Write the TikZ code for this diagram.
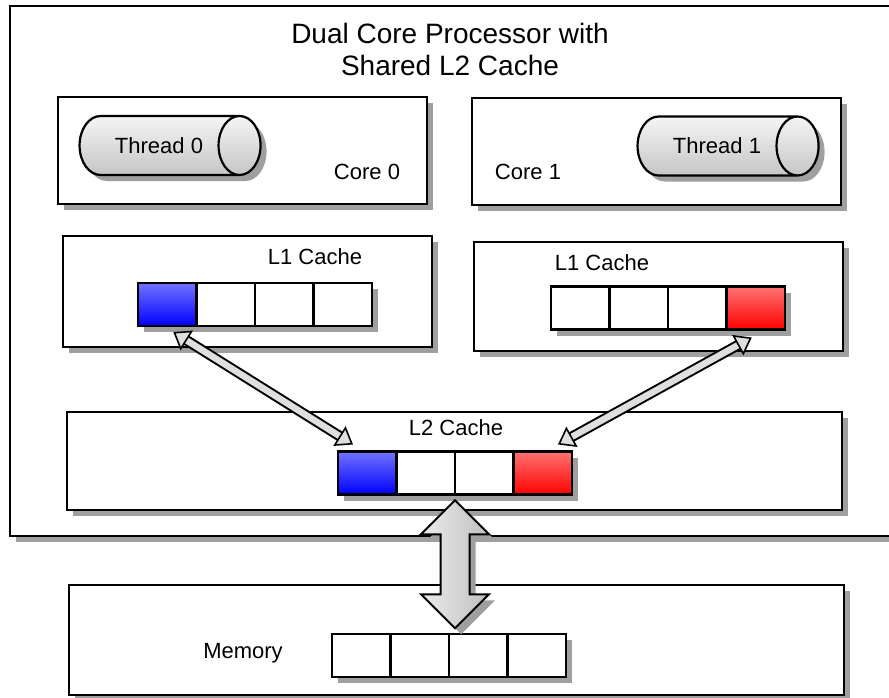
\documentclass[tikz,border=0pt]{standalone}
\usepackage{fontspec}
\setmainfont{Liberation Sans}
\usepackage{tikz}
\usetikzlibrary{positioning,shapes.geometric,shapes.arrows,shadows,arrows.meta,calc}

\tikzset{
  shade box/.style={drop shadow={shadow xshift=6pt, shadow yshift=-6pt, fill=gray!75, opacity=1}},
  frame/.style={draw, line width=2.4pt, fill=white, outer sep=0pt, inner sep=0pt, shade box},
  cell/.style={frame, minimum width=58.5pt, minimum height=43pt},
  bluecell/.style={cell, top color=blue!55!white, bottom color=blue},
  redcell/.style={cell, top color=red!55!white, bottom color=red},
  thread/.style={cylinder, draw, line width=2.2pt, shape aspect=2.6, minimum height=181pt, minimum width=59pt, inner sep=0pt,
    top color=gray!8, bottom color=gray!45, shade box, font=\fontsize{22}{26}\selectfont},
  lbl/.style={font=\fontsize{22}{26}\selectfont},
  link/.style={double=gray!25, double distance=6.5pt, line width=2pt,
    {Triangle[length=16pt,width=23pt,fill=gray!25,line width=1.6pt]}-{Triangle[length=16pt,width=23pt,fill=gray!25,line width=1.6pt]}},
  bigarrow/.style={double arrow, draw, line width=2pt, rotate=90, minimum height=128pt, inner xsep=0pt, inner ysep=13.5pt,
    double arrow head extend=19.5pt, left color=gray!15, right color=gray!50, shade box}
}

\begin{document}
\begin{tikzpicture}[x=1pt,y=-1pt]
\useasboundingbox (0,0) rectangle (889,698);
\fill[white] (0,0) rectangle (889,698);
\clip (0,0) rectangle (889,698);

% processor and its parts
\node[frame, minimum width=895pt, minimum height=530pt] (cpu) at (457.5,271) {};
\node[font=\fontsize{28}{32}\selectfont, align=center] (title) at (450,49) {Dual Core Processor with\\Shared L2 Cache};

\node[frame, minimum width=369pt, minimum height=107pt] (core0) at (242.5,150.5) {};
\node[frame, minimum width=369pt, minimum height=107pt] (core1) at (656.5,151.5) {};

\node[thread] (t0) at (159,145.5) {Thread 0};
\node[thread] (t1) at (717,146) {Thread 1};

\node[lbl] (c0) at (367,172) {Core 0};
\node[lbl] (c1) at (528,172) {Core 1};

% L1 caches
\node[frame, minimum width=369pt, minimum height=111pt] (l1a) at (247.5,291.5) {};
\node[frame, minimum width=369pt, minimum height=109pt] (l1b) at (658.5,296.5) {};
\node[lbl] (l1atxt) at (315,257) {L1 Cache};
\node[lbl] (l1btxt) at (602,263) {L1 Cache};

\node[bluecell, anchor=west] (a0) at (138,304.5) {};
\node[cell, right=0pt of a0] (a1) {};
\node[cell, right=0pt of a1] (a2) {};
\node[cell, right=0pt of a2] (a3) {};

\node[cell, anchor=west] (b0) at (551,308) {};
\node[cell, right=0pt of b0] (b1) {};
\node[cell, right=0pt of b1] (b2) {};
\node[redcell, right=0pt of b2] (b3) {};

% shared L2
\node[frame, minimum width=775pt, minimum height=98pt] (l2) at (454.5,461) {};
\node[lbl] (l2txt) at (456,428) {L2 Cache};

\node[bluecell, anchor=west] (c0c) at (338,473) {};
\node[cell, right=0pt of c0c] (c1c) {};
\node[cell, right=0pt of c1c] (c2c) {};
\node[redcell, right=0pt of c2c] (c3c) {};

% memory
\node[frame, minimum width=775pt, minimum height=110pt] (mem) at (456.5,640) {};
\node[lbl] (memtxt) at (243,653) {Memory};

\node[cell, anchor=west] (m0) at (332,655.5) {};
\node[cell, right=0pt of m0] (m1) {};
\node[cell, right=0pt of m1] (m2) {};
\node[cell, right=0pt of m2] (m3) {};

\draw[link] ([xshift=6pt,yshift=-6pt]a0.south) -- ([xshift=15pt,yshift=7pt]c0c.north west);
\draw[link] ([xshift=-4pt,yshift=-8pt]b3.south) -- ([xshift=-14pt,yshift=7pt]c3c.north east);

\node[bigarrow] (bus) at ($(c1c.south east)!0.5!(c1c.south east |- m1.north)$) {};

\end{tikzpicture}
\end{document}
